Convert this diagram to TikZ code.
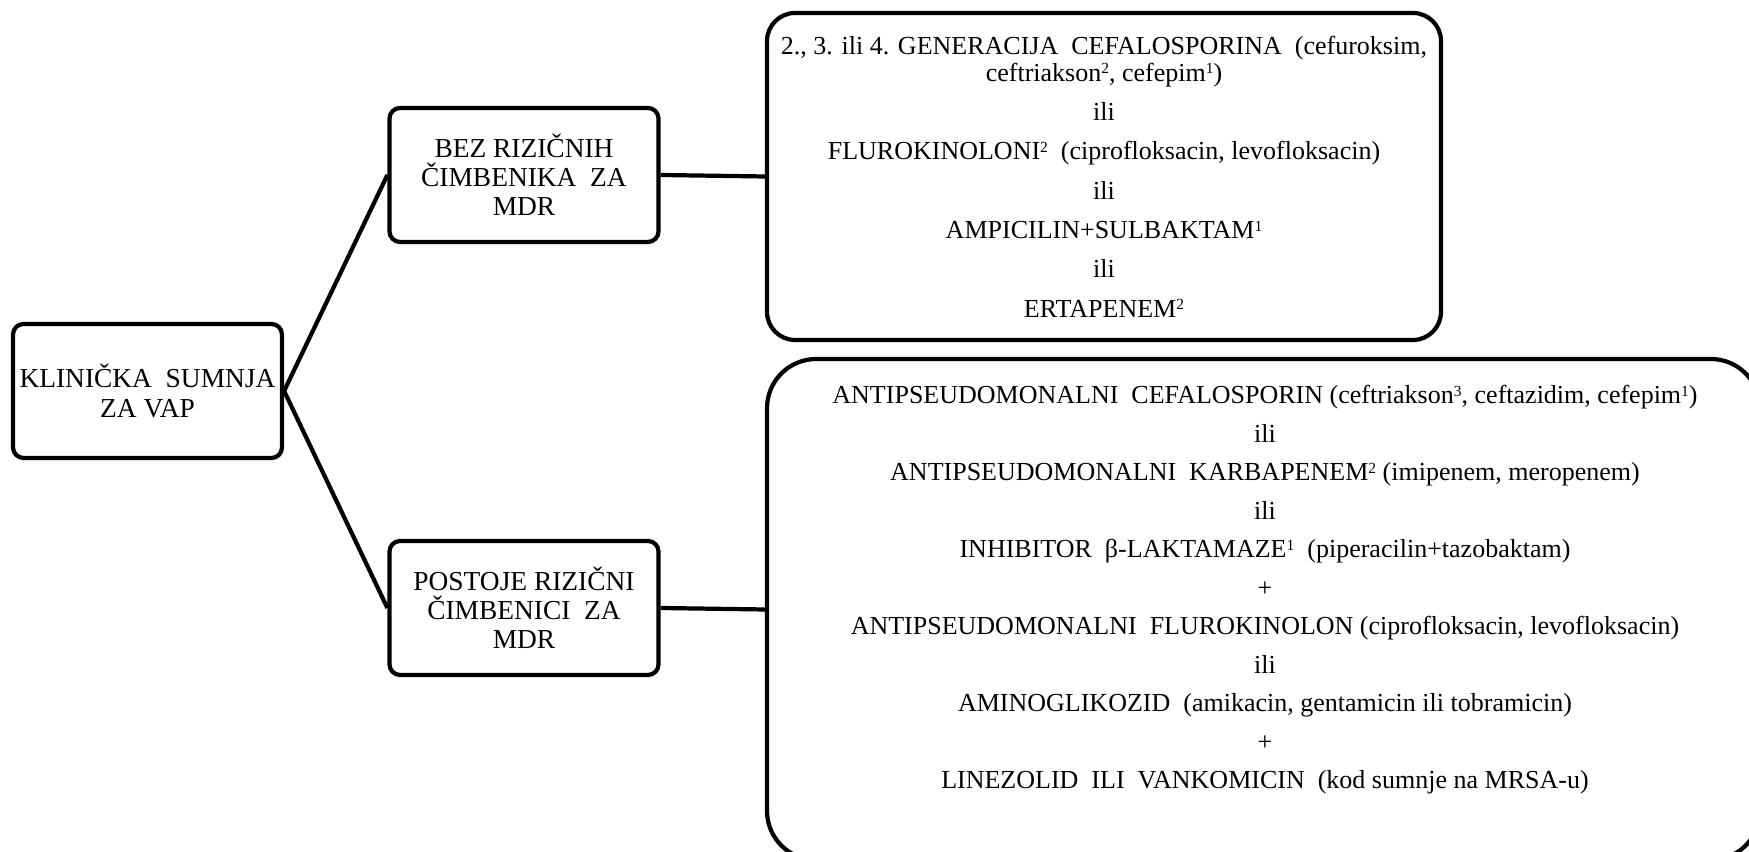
\documentclass[tikz,border=0pt]{standalone}
\usepackage{fontspec}
\setmainfont{Liberation Serif}
\usepackage{tikz}
\newcommand{\upnum}[1]{\raisebox{0.28em}{\fontsize{4.4pt}{4.4pt}\selectfont #1}}

\begin{document}
\begin{tikzpicture}[
    box/.style={draw, line width=1.2pt, rounded corners=3pt, align=center, inner sep=0pt,
        font=\fontsize{7.8pt}{8.3pt}\selectfont, minimum width=2.69cm, minimum height=1.34cm},
    list/.style={align=center, inner sep=0pt, font=\fontsize{7.4pt}{7.7pt}\selectfont},
    link/.style={line width=1.2pt}
]
    \useasboundingbox (0,0) rectangle (17.49,8.52);

    \node[box] (vap) at (1.475,4.61) {KLINIČKA~ SUMNJA\\ZA VAP};
    \node[box] (nomdr) at (5.24,6.77) {BEZ RIZIČNIH\\ČIMBENIKA~ ZA\\MDR};
    \node[box] (mdr) at (5.24,2.44) {POSTOJE RIZIČNI\\ČIMBENICI~ ZA\\MDR};

    \node[box, list, rounded corners=8pt, minimum width=6.74cm, minimum height=3.27cm] (nomdrlist) at (11.04,6.755)
        {2., 3. ili 4. GENERACIJA~ CEFALOSPORINA~ (cefuroksim,\\
         ceftriakson\upnum{2}, cefepim\upnum{1})\\[3.5pt]
         ili\\[3.5pt]
         FLUROKINOLONI\upnum{2}~ (ciprofloksacin, levofloksacin)\\[3.5pt]
         ili\\[3.5pt]
         AMPICILIN+SULBAKTAM\upnum{1}\\[3.5pt]
         ili\\[3.5pt]
         ERTAPENEM\upnum{2}};

    \node[draw, line width=1.2pt, rounded corners=14pt, minimum width=9.93cm, minimum height=5.01cm] (mdrbox) at (12.635,2.425) {};
    \node[list, font=\fontsize{7.4pt}{10.95pt}\selectfont] (mdrlist) at (12.65,2.62)
        {ANTIPSEUDOMONALNI~ CEFALOSPORIN (ceftriakson\upnum{3}, ceftazidim, cefepim\upnum{1})\\
         ili\\
         ANTIPSEUDOMONALNI~ KARBAPENEM\upnum{2} (imipenem, meropenem)\\
         ili\\
         INHIBITOR~ β-LAKTAMAZE\upnum{1}~ (piperacilin+tazobaktam)\\
         +\\
         ANTIPSEUDOMONALNI~ FLUROKINOLON (ciprofloksacin, levofloksacin)\\
         ili\\
         AMINOGLIKOZID~ (amikacin, gentamicin ili tobramicin)\\
         +\\
         LINEZOLID~ ILI~ VANKOMICIN~ (kod sumnje na MRSA-u)};

    \draw[link] (vap.east) -- (nomdr.west);
    \draw[link] (vap.east) -- (mdr.west);
    \draw[link] (nomdr.east) -- (nomdrlist.west);
    \draw[link] (mdr.east) -- (mdrbox.west);
\end{tikzpicture}
\end{document}
